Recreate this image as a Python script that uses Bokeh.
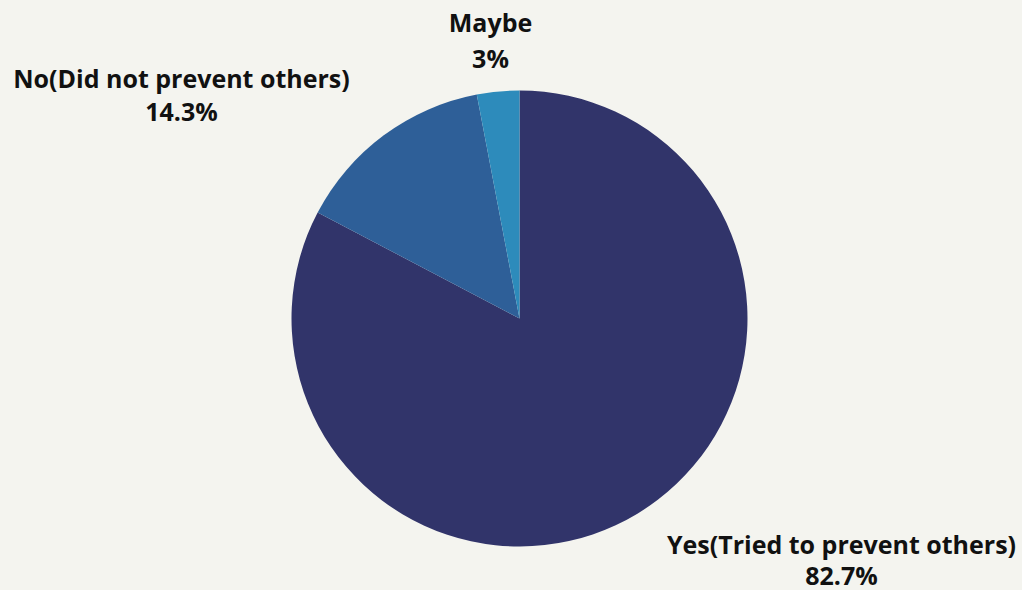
import math
from bokeh.plotting import figure
from bokeh.models import Range1d, ColumnDataSource
from bokeh.core.properties import value
from bokeh.embed import file_html
from bokeh.resources import INLINE

categories = ["Yes(Tried to prevent others)", "No(Did not prevent others)", "Maybe"]
percents = [82.7, 14.3, 3.0]
pct_labels = ["82.7%", "14.3%", "3%"]
colors = ["#31346a", "#2e5f98", "#2d8bbb"]

W, H = 1022, 590
BG = "#f4f4ef"

p = figure(width=W, height=H, output_backend="svg", toolbar_location=None,
           x_range=Range1d(0, W), y_range=Range1d(0, H), min_border=0)
p.axis.visible = False
p.grid.visible = False
p.outline_line_color = None
p.background_fill_color = BG
p.border_fill_color = BG

cx, cy, r = 519, H - 318, 228

# clockwise from 12 o'clock
total = sum(percents)
starts, ends = [], []
a = math.pi / 2
for v in percents:
    sweep = 2 * math.pi * v / total
    ends.append(a)
    starts.append(a - sweep)
    a -= sweep

src = ColumnDataSource(dict(start=starts, end=ends, color=colors))
p.wedge(x=cx, y=cy, radius=r, start_angle="start", end_angle="end",
        fill_color="color", line_color=None, source=src)

# label layout (image pixel centers)
label_pos = [(841, 543, 574), (181, 77, 110), (490, 21, 57)]
lx, ly1, ly2, t1, t2 = [], [], [], [], []
for (x, y1, y2), c, pl in zip(label_pos, categories, pct_labels):
    lx.append(x); ly1.append(H - y1); ly2.append(H - y2); t1.append(c); t2.append(pl)

for ys, ts in ((ly1, t1), (ly2, t2)):
    p.text(x=lx, y=ys, text=ts, text_font=value("Open Sans"), text_font_style="bold",
           text_font_size="25px", text_color="#111111", text_align="center",
           text_baseline="middle")

html = file_html(p, INLINE)
html = html.replace("<head>", "<head><style>body{background:#f4f4ef;margin:0}</style>", 1)
open("out.html", "w").write(html)
